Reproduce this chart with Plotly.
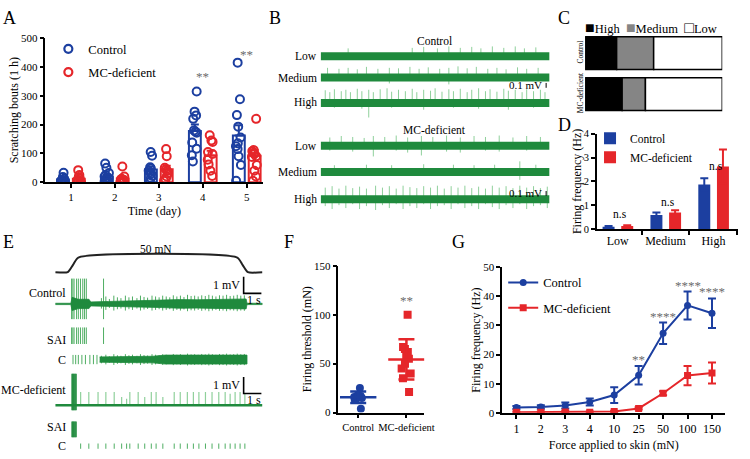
import plotly.graph_objects as go
import numpy as np

W, H = 750, 459
def fx(p): return p / W
def fy(p): return 1 - p / H

FONT = "Liberation Serif"
BLUE = "#1c3fa0"
RED = "#e5262a"
GREEN = "#1f8a3d"
GREEN_L = "#8fd09b"
GREEN_M = "#4fae63"
GREY = "#6b6b6b"

# ================= DATA =================
# A: scratching bouts
days = [1, 2, 3, 4, 5]
a_ctrl_mean = [10, 20, 44, 178, 162]
a_ctrl_sem = [4, 7, 11, 22, 36]
a_mc_mean = [12, 13, 45, 93, 92]
a_mc_sem = [5, 6, 12, 16, 20]
a_ctrl_pts = [
    [33, 18, 12, 8, 5, 3, 0, 0],
    [65, 50, 32, 25, 20, 15, 10, 5, 3, 0],
    [105, 92, 52, 48, 40, 35, 30, 22, 15, 0],
    [315, 245, 232, 220, 180, 175, 172, 138, 116, 94, 72],
    [415, 288, 233, 193, 155, 135, 125, 115, 90, 60, 5],
]
a_mc_pts = [
    [42, 25, 18, 12, 8, 5, 2, 0, 0],
    [55, 20, 12, 10, 8, 5, 3, 0],
    [115, 90, 50, 45, 40, 30, 20, 10, 5],
    [163, 145, 140, 105, 98, 78, 62, 40, 22],
    [220, 112, 108, 102, 98, 90, 88, 60, 40, 20, 5],
]
a_sig = ["", "", "", "**", "**"]

# B: spontaneous firing traces, spikes as (time fraction, up mV, down mV)
b_levels = ["Low", "Medium", "High"]
b_ctrl_low = [(0.12,.16,0),(0.40,.17,0),(0.45,.19,0),(0.51,.16,0),(0.56,.2,0),(0.61,.17,0),
              (0.66,.19,0),(0.70,.16,0),(0.75,.2,0),(0.80,.17,0),(0.85,.2,0),(0.89,.16,0),(0.94,.18,0)]
b_ctrl_med = [(0.03,.2,0),(0.08,.18,0),(0.12,.2,0),(0.16,.17,0),(0.2,.22,0),(0.25,.18,0),(0.3,.2,.12),
              (0.34,.19,0),(0.39,.22,0),(0.43,.18,0),(0.47,.21,0),(0.52,.18,0),(0.56,.2,.14),(0.6,.23,0),
              (0.64,.19,0),(0.68,.22,0),(0.73,.18,0),(0.77,.2,0),(0.81,.17,0),(0.86,.21,0),(0.9,.18,0),(0.95,.2,0)]
b_ctrl_high = [(0.02,.26,0),(0.04,.22,0),(0.06,.28,.1),(0.09,.24,0),(0.11,.27,0),(0.13,.22,0),(0.16,.29,0),
               (0.18,.24,.12),(0.21,.27,.3),(0.23,.22,0),(0.26,.28,0),(0.29,.3,0),(0.31,.23,.1),(0.34,.27,0),
               (0.37,.24,0),(0.40,.29,0),(0.42,.22,0),(0.45,.27,.14),(0.48,.25,0),(0.50,.3,0),(0.53,.23,0),
               (0.56,.28,0),(0.58,.24,.1),(0.61,.29,0),(0.64,.22,0),(0.66,.27,0),(0.69,.3,.12),(0.72,.24,0),
               (0.74,.28,0),(0.77,.23,0),(0.80,.29,0),(0.82,.25,.14),(0.85,.27,0),(0.88,.22,0),(0.90,.28,0),
               (0.93,.24,.1),(0.96,.27,0),(0.98,.22,0)]
b_mc_low = [(0.04,.17,.1),(0.09,.2,0),(0.14,.18,.12),(0.19,.16,0),(0.23,.2,.22),(0.28,.18,0),(0.33,.21,.1),
            (0.38,.17,.14),(0.44,.2,.2),(0.49,.18,0),(0.55,.21,.12),(0.61,.17,.14),(0.67,.2,0),(0.72,.18,.1),
            (0.78,.21,.12),(0.84,.17,0),(0.90,.2,.1),(0.96,.18,0)]
b_mc_med = [(0.06,.14,0),(0.2,.15,0),(0.31,.14,0),(0.45,.16,0),(0.58,.15,0),(0.67,.14,0),(0.76,.15,0),
            (0.87,.22,.16),(0.94,.15,0)]
b_mc_high = [(0.02,.24,.14),(0.05,.27,.2),(0.08,.22,.12),(0.11,.28,.18),(0.14,.23,.1),(0.17,.26,.2),(0.2,.22,.14),
             (0.24,.28,.22),(0.27,.24,.12),(0.3,.27,.18),(0.33,.22,.1),(0.36,.28,.2),(0.39,.25,.14),(0.42,.23,.18),
             (0.45,.27,.1),(0.48,.24,.2),(0.51,.28,.14),(0.54,.22,.12),(0.57,.27,.2),(0.6,.24,.1),(0.63,.28,.18),
             (0.66,.23,.14),(0.69,.26,.2),(0.72,.22,.1),(0.75,.28,.16),(0.78,.24,.2),(0.81,.27,.12),(0.84,.23,.18),
             (0.87,.28,.1),(0.9,.24,.2),(0.93,.27,.14),(0.96,.23,.12),(0.99,.26,.18)]

# C: proportion of units (%)
c_groups = ["Control", "MC-deficient"]
c_high = [23, 27]
c_medium = [27, 17]
c_low = [50, 56]

# D: firing frequency (Hz)
d_cats = ["Low", "Medium", "High"]
d_ctrl = [0.11, 0.60, 1.87]
d_ctrl_err = [0.03, 0.10, 0.26]
d_mc = [0.14, 0.70, 2.62]
d_mc_err = [0.03, 0.10, 0.72]
d_sig = ["n.s", "n.s", "n.s"]

# E: 50 mN stimulation traces (time s, force mN, amplitude mV)
e_stim_t = [0, 0.7, 1.0, 1.3, 10.25, 10.55, 10.85, 11.67]
e_stim_f = [0, 0, 25, 50, 50, 25, 0, 0]
e_ctrl_sai_t = [0.92, 0.99, 1.06, 1.2, 1.3, 1.42, 1.55, 1.65, 1.75, 2.72]
e_ctrl_env_t = [0, 0.88, 0.95, 1.3, 1.9, 2.0, 3.0, 4.0, 5.0, 6.0, 7.0, 8.0, 9.0, 10.0, 10.75, 10.8, 11.67]
e_ctrl_env = [0.04, 0.04, 0.4, 0.28, 0.28, 0.12, 0.15, 0.18, 0.2, 0.22, 0.26, 0.25, 0.27, 0.3, 0.3, 0.04, 0.04]
e_ctrl_c_t = [2.6, 2.85, 3.05, 3.3, 3.5, 3.7, 3.95, 4.15, 4.35, 4.6, 4.8, 5.0, 5.2, 5.45, 5.65, 5.85, 6.05,
              6.25, 6.45, 6.65, 6.85, 7.05, 7.25, 7.45, 7.65, 7.85, 8.05, 8.25, 8.45, 8.65, 8.85, 9.05,
              9.25, 9.45, 9.65, 9.85, 10.05, 10.25, 10.45, 10.65]
e_ctrl_c_amp = [0.35, 0.45, 0.3, 0.5, 0.4, 0.35, 0.5, 0.4, 0.45, 0.35, 0.5, 0.42, 0.38, 0.5, 0.45, 0.4, 0.5,
                0.45, 0.4, 0.52, 0.45, 0.5, 0.42, 0.55, 0.48, 0.5, 0.45, 0.52, 0.48, 0.55, 0.5, 0.45,
                0.52, 0.5, 0.55, 0.48, 0.5, 0.55, 0.5, 0.52]
e_ctrl_c_ticks = [1.0, 1.15, 1.3, 1.5, 1.7, 1.95, 2.15, 2.35]
e_ctrl_c_env_t = [2.5, 4.0, 5.5, 6.2, 8.0, 10.8]
e_ctrl_c_env = [0.16, 0.18, 0.2, 0.27, 0.27, 0.27]
e_mc_sai_t = [0.95, 1.0, 1.05, 1.11, 1.17]
e_mc_c_t = [1.43, 1.89, 2.41, 2.85, 3.32, 3.74, 4.02, 4.2, 4.67, 5.04, 5.41, 5.68, 6.06,
            6.7, 7.04, 7.44, 7.78, 8.09, 8.46, 8.83, 9.21, 9.57, 9.85, 10.13, 10.41, 10.68]
e_mc_c_amp = [0.8, 0.8, 0.8, 0.8, 0.8, 0.5, 0.4, 0.8, 0.8, 0.5, 0.8, 0.8, 0.5,
              0.8, 0.8, 0.8, 0.8, 0.8, 0.8, 0.8, 0.8, 0.8, 0.7, 0.8, 0.8, 0.7]

# F: firing threshold (mN)
f_groups = ["Control", "MC-deficient"]
f_ctrl = [25, 18, 17, 16, 17, 15, 13, 4]
f_mc = [100, 67, 62, 65, 57, 55, 50, 45, 40, 35, 21]
f_sig = ["", "**"]

# G: force-frequency
g_force = ["1", "2", "3", "4", "10", "25", "50", "100", "150"]
g_ctrl = [1.8, 2.0, 2.5, 3.7, 6.1, 12.9, 27.3, 36.9, 34.2]
g_ctrl_err = [0.5, 0.6, 1.0, 1.2, 2.7, 3.2, 3.7, 4.8, 5.1]
g_mc = [0.2, 0.2, 0.3, 0.2, 0.4, 1.5, 6.7, 12.8, 13.7]
g_mc_err = [0.2, 0.2, 0.3, 0.2, 0.3, 0.4, 0.7, 3.3, 3.6]
g_sig = ["", "", "", "", "", "**", "****", "****", "****"]

# ================= FIGURE =================
fig = go.Figure()
ann = []
shapes = []

def A(text, x, y, xref="paper", yref="paper", size=11, color="black", xanchor="center",
      yanchor="middle", angle=0):
    ann.append(dict(text=text, x=x, y=y, xref=xref, yref=yref, showarrow=False,
                    font=dict(family=FONT, size=size, color=color), xanchor=xanchor,
                    yanchor=yanchor, textangle=angle))

def spike_xy(spk, off):
    xs, ys = [], []
    for t, u, d in spk:
        xs += [t, t, None]
        ys += [off - d, off + u, None]
    return xs, ys

def add_lines(xs, ys, color, width, ax="5", **kw):
    fig.add_trace(go.Scatter(x=xs, y=ys, mode="lines", line=dict(color=color, width=width, **kw),
                             xaxis="x" + ax, yaxis="y" + ax, showlegend=False, hoverinfo="skip"))

# ---------- Panel A ----------
for mean, sem, col, off in [(a_ctrl_mean, a_ctrl_sem, BLUE, -0.315), (a_mc_mean, a_mc_sem, RED, 0.045)]:
    fig.add_trace(go.Bar(x=days, y=mean, width=0.27, offset=off, xaxis="x", yaxis="y",
                         marker=dict(color="rgba(255,255,255,0)", line=dict(color=col, width=2)),
                         error_y=dict(type="data", array=sem, arrayminus=[0] * len(sem), symmetric=False,
                                      color=col, thickness=2, width=4),
                         showlegend=False, hoverinfo="skip"))
for pts, col, grp in [(a_ctrl_pts, BLUE, "ctrl"), (a_mc_pts, RED, "mc")]:
    xs = [d for d, p in zip(days, pts) for _ in p]
    ys = [v for p in pts for v in p]
    fig.add_trace(go.Box(x=xs, y=ys, xaxis="x", yaxis="y", boxpoints="all", jitter=0.55, pointpos=0,
                         fillcolor="rgba(0,0,0,0)", line=dict(color="rgba(0,0,0,0)", width=0),
                         marker=dict(symbol="circle-open", size=8, color=col, line=dict(width=2, color=col)),
                         offsetgroup=grp, alignmentgroup="a", showlegend=False, hoverinfo="skip"))
for name, col in [("Control", BLUE), ("MC-deficient", RED)]:
    fig.add_trace(go.Scatter(x=[None], y=[None], mode="markers", name=name, xaxis="x", yaxis="y",
                             marker=dict(symbol="circle-open", size=8, color=col, line=dict(width=2.2, color=col)),
                             legend="legend", legendgroup=name))
for d, s, top in zip(days, a_sig, [0, 0, 0, 368, 442]):
    if s:
        A(s, d, top, xref="x", yref="y", size=13, color=GREY)

# ---------- Panel B ----------
b_off_ctrl = [-0.23, -0.67, -1.19]
b_off_mc = [-2.07, -2.61, -3.17]
for spk_list, offs in [([b_ctrl_low, b_ctrl_med, b_ctrl_high], b_off_ctrl),
                       ([b_mc_low, b_mc_med, b_mc_high], b_off_mc)]:
    for spk, off, lab in zip(spk_list, offs, b_levels):
        xs, ys = spike_xy(spk, off)
        add_lines(xs, ys, GREEN_L, 1, ax="2")
        add_lines([0, 1], [off, off], GREEN, 8, ax="2")
        A(lab, fx(323), off, yref="y2", xanchor="right", size=11.5)
A("Control", fx(440), fy(36), size=11.5)
A("MC-deficient", fx(440), fy(127), size=11.5)
for y0 in [b_off_ctrl[2] + 0.31, b_off_mc[2] + 0.07]:
    shapes.append(dict(type="line", xref="x2", yref="y2", x0=0.985, x1=0.985, y0=y0, y1=y0 + 0.1,
                       line=dict(color="black", width=1)))
    A("0.1 mV", 0.975, y0 + 0.05, xref="x2", yref="y2", xanchor="right", size=11)

# ---------- Panel C ----------
c_base_med = list(np.array(c_high))
c_base_low = list(np.array(c_high) + np.array(c_medium))
for vals, base, col in [(c_high, [0, 0], "black"), (c_medium, c_base_med, "#858585"), (c_low, c_base_low, "white")]:
    fig.add_trace(go.Bar(x=vals, y=c_groups, base=base, orientation="h", width=0.8, xaxis="x3", yaxis="y3",
                         marker=dict(color=col, line=dict(color="black", width=1.5)),
                         showlegend=False, hoverinfo="skip"))
A("<span style='font-size:16px;color:black'>■</span>High  <span style='font-size:16px;color:#858585'>■</span>Medium  "
  "<span style='font-size:16px'>□</span>Low",
  fx(591), fy(22), xanchor="left", size=12.5)

# ---------- Panel D ----------
for vals, err, col, off, name in [(d_ctrl, d_ctrl_err, BLUE, -0.315, "Control"), (d_mc, d_mc_err, RED, 0.075, "MC-deficient")]:
    fig.add_trace(go.Bar(x=d_cats, y=vals, width=0.25, offset=off, xaxis="x4", yaxis="y4", name=name,
                         marker=dict(color=col, line=dict(width=0)),
                         error_y=dict(type="data", array=err, color=col, thickness=2, width=4),
                         legend="legend2", hoverinfo="skip"))
for i, (s, top) in enumerate(zip(d_sig, [0.66, 1.15, 2.66])):
    A(s, i + 0.05, top, xref="x4", yref="y4", size=11.5)

# ---------- Panel E ----------
E_STIM = -1.37
E_CTRL, E_CTRL_SAI, E_CTRL_C = -3.29, -5.71, -6.65
E_MC, E_MC_SAI, E_MC_C = -9.41, -11.35, -11.88
k_force = 0.88 / 50
add_lines(e_stim_t, [E_STIM + f * k_force for f in e_stim_f], "#222", 2, shape="spline", smoothing=0.6)
A("50 mN", 5.7, 0.0, xref="x5", yref="y5", size=11.5)
# control raw: SAI + C spikes behind the noise band
xs, ys = spike_xy([(t, 1.53, 0.92) for t in e_ctrl_sai_t], E_CTRL)
add_lines(xs, ys, GREEN_M, 1)
xs, ys = spike_xy([(t, a, a * 0.8) for t, a in zip(e_ctrl_c_t, e_ctrl_c_amp)], E_CTRL)
add_lines(xs, ys, GREEN_M, 1)
fig.add_trace(go.Scatter(x=e_ctrl_env_t + e_ctrl_env_t[::-1],
                         y=[E_CTRL + e for e in e_ctrl_env] + [E_CTRL - e for e in e_ctrl_env[::-1]],
                         mode="lines", fill="toself", fillcolor=GREEN, line=dict(color=GREEN, width=0.8),
                         xaxis="x5", yaxis="y5", showlegend=False, hoverinfo="skip"))
# control SAI
xs, ys = spike_xy([(t, 1.0, 0) for t in e_ctrl_sai_t], E_CTRL_SAI)
add_lines(xs, ys, GREEN_M, 1)
# control C
xs, ys = spike_xy([(t, 0.28, 0.28) for t in e_ctrl_c_ticks], E_CTRL_C)
add_lines(xs, ys, GREEN_M, 1)
xs, ys = spike_xy([(t, a * 0.65, a * 0.65) for t, a in zip(e_ctrl_c_t, e_ctrl_c_amp)], E_CTRL_C)
add_lines(xs, ys, GREEN_M, 1)
fig.add_trace(go.Scatter(x=e_ctrl_c_env_t + e_ctrl_c_env_t[::-1],
                         y=[E_CTRL_C + e for e in e_ctrl_c_env] + [E_CTRL_C - e for e in e_ctrl_c_env[::-1]],
                         mode="lines", fill="toself", fillcolor=GREEN, line=dict(color=GREEN, width=0.8),
                         xaxis="x5", yaxis="y5", showlegend=False, hoverinfo="skip"))
# MC raw
xs, ys = spike_xy([(t, a, 0.05) for t, a in zip(e_mc_c_t, e_mc_c_amp)], E_MC)
add_lines(xs, ys, GREEN_L, 1.2)
add_lines([0, 11.67], [E_MC, E_MC], GREEN, 2.5)
xs, ys = spike_xy([(t, 1.9, 0.3) for t in e_mc_sai_t], E_MC)
add_lines(xs, ys, GREEN, 1.5)
# MC SAI
xs, ys = spike_xy([(t, 0.96, 0) for t in e_mc_sai_t], E_MC_SAI)
add_lines(xs, ys, GREEN, 1.5)
# MC C
xs, ys = spike_xy([(t, 0.16, 0.16) for t in e_mc_c_t], E_MC_C)
add_lines(xs, ys, GREEN_M, 1)
# labels
for txt, yv in [("Control", E_CTRL + 0.65), ("SAI", E_CTRL_SAI + 0.25), ("C", E_CTRL_C),
                ("MC-deficient", E_MC + 0.9), ("SAI", E_MC_SAI + 0.6), ("C", E_MC_C)]:
    A(txt, fx(69), yv, yref="y5", xanchor="right", size=12)
# scale bars (1 mV, 1 s)
for top in [-1.65, -7.7]:
    shapes.append(dict(type="path", xref="x5", yref="y5",
                       path=f"M 10.61 {top} L 10.61 {top-1} L 11.61 {top-1}",
                       line=dict(color="black", width=1.6)))
    A("1 mV", 10.5, top - 0.5, xref="x5", yref="y5", xanchor="right", size=12)
    A("1 s", 11.2, top - 1.42, xref="x5", yref="y5", size=12)

# ---------- Panel F ----------
for vals, grp, col, sym in [(f_ctrl, f_groups[0], BLUE, "circle"), (f_mc, f_groups[1], RED, "square")]:
    fig.add_trace(go.Box(x=[grp] * len(vals), y=vals, xaxis="x6", yaxis="y6", boxpoints="all",
                         jitter=0.45, pointpos=0, fillcolor="rgba(0,0,0,0)",
                         line=dict(color="rgba(0,0,0,0)", width=0),
                         marker=dict(symbol=sym, size=8, color=col), offsetgroup="f", alignmentgroup="f",
                         showlegend=False, hoverinfo="skip"))
    fig.add_trace(go.Scatter(x=[grp], y=[np.mean(vals)], mode="markers", xaxis="x6", yaxis="y6",
                             marker=dict(symbol="line-ew", size=26, line=dict(color=col, width=2.5)),
                             error_y=dict(type="data", array=[np.std(vals, ddof=1)], color=col,
                                          thickness=2.5, width=8),
                             showlegend=False, hoverinfo="skip"))
for i, s in enumerate(f_sig):
    if s:
        A(s, i, 114, xref="x6", yref="y6", size=13, color=GREY)

# ---------- Panel G ----------
for vals, err, col, sym, name in [(g_ctrl, g_ctrl_err, BLUE, "circle", "Control"),
                                  (g_mc, g_mc_err, RED, "square", "MC-deficient")]:
    fig.add_trace(go.Scatter(x=g_force, y=vals, mode="lines+markers", name=name, xaxis="x7", yaxis="y7",
                             line=dict(color=col, width=2), marker=dict(symbol=sym, size=7, color=col),
                             error_y=dict(type="data", array=err, color=col, thickness=2, width=4),
                             legend="legend3", legendgroup=name, hoverinfo="skip"))
for i, (s, top) in enumerate(zip(g_sig, [0, 0, 0, 0, 0, 18.3, 33.2, 43.8, 41.6])):
    if s:
        A(s, i, top, xref="x7", yref="y7", size=13, color=GREY)

# ---------- panel letters ----------
for L, x, y in [("A", 10, 12), ("B", 279, 12), ("C", 572, 12), ("D", 572, 122),
                ("E", 9, 242), ("F", 293, 242), ("G", 465, 242)]:
    A(L, fx(x), fy(y), size=18)

# ================= LAYOUT =================
def axis(**kw):
    base = dict(showgrid=False, zeroline=False, showline=True, linecolor="black", linewidth=1.5,
                ticks="outside", ticklen=4, tickwidth=1.5, tickcolor="black", tickangle=0,
                tickfont=dict(family=FONT, size=10.5, color="black"), fixedrange=True)
    base.update(kw)
    return base

def hidden(**kw):
    base = dict(visible=False, fixedrange=True)
    base.update(kw)
    return base

TF = dict(family=FONT, size=12, color="black")
fig.update_layout(
    width=W, height=H, margin=dict(l=0, r=0, t=0, b=0),
    paper_bgcolor="white", plot_bgcolor="white",
    font=dict(family=FONT, color="black"),
    barmode="overlay", boxmode="group", boxgap=0.28, boxgroupgap=0.25,
    showlegend=True,
    # A
    xaxis=axis(domain=[fx(46), fx(267)], range=[0.42, 5.38], anchor="y", tickvals=days,
               tickfont=dict(family=FONT, size=11, color="black"),
               title=dict(text="Time (day)", font=TF, standoff=4)),
    yaxis=axis(domain=[fy(181), fy(33)], range=[0, 500], anchor="x", tickvals=[0, 100, 200, 300, 400, 500],
               tickfont=dict(family=FONT, size=11, color="black"),
               title=dict(text="Scratching bouts (1 h)", font=TF, standoff=0)),
    # B
    xaxis2=hidden(domain=[fx(325), fx(557)], range=[0, 1], anchor="y2"),
    yaxis2=hidden(domain=[fy(210), fy(40)], range=[-3.4, 0], anchor="x2"),
    # C
    xaxis3=hidden(domain=[fx(593), fx(732)], range=[0, 100], anchor="y3"),
    yaxis3=dict(domain=[fy(111.5), fy(27.5)], range=[1.5, -0.5], anchor="x3", type="category",
                categoryarray=c_groups, showline=False, showgrid=False, zeroline=False, ticks="",
                tickangle=-90, tickfont=dict(family=FONT, size=7.5, color="black"), fixedrange=True),
    # D
    xaxis4=axis(domain=[fx(605), fx(748)], range=[-0.433, 2.515], anchor="y4", type="category",
                categoryarray=d_cats, tickson="boundaries", tickfont=dict(family=FONT, size=12, color="black")),
    yaxis4=axis(domain=[fy(229.3), fy(131)], range=[0, 4], anchor="x4", dtick=1,
                title=dict(text="Firing frequency (Hz)", font=TF, standoff=0)),
    # E
    xaxis5=hidden(domain=[fx(56), fx(266)], range=[0, 11.67], anchor="y5"),
    yaxis5=hidden(domain=[fy(458), fy(250)], range=[-12.235, 0], anchor="x5"),
    # F
    xaxis6=axis(domain=[fx(343), fx(430)], range=[-0.41, 1.37], anchor="y6", type="category",
                categoryarray=f_groups, tickfont=dict(family=FONT, size=10.5, color="black")),
    yaxis6=axis(domain=[fy(417.5), fy(266.7)], range=[0, 150], anchor="x6", tickvals=[0, 50, 100, 150],
                tickfont=dict(family=FONT, size=11, color="black"),
                title=dict(text="Firing threshold (mN)", font=TF, standoff=0)),
    # G
    xaxis7=axis(domain=[fx(509), fx(735)], range=[-0.58, 8.54], anchor="y7", type="category",
                categoryarray=g_force, tickfont=dict(family=FONT, size=12, color="black"),
                title=dict(text="Force applied to skin (mN)", font=TF, standoff=6)),
    yaxis7=axis(domain=[fy(417.7), fy(268.3)], range=[0, 50], anchor="x7", dtick=10,
                tickfont=dict(family=FONT, size=11, color="black"),
                title=dict(text="Firing frequency (Hz)", font=TF, standoff=0)),
    legend=dict(x=fx(49), y=fy(29), xanchor="left", yanchor="top", bgcolor="rgba(0,0,0,0)",
                font=dict(family=FONT, size=12.5), itemwidth=30, tracegroupgap=4),
    legend2=dict(x=fx(598), y=fy(121), xanchor="left", yanchor="top", bgcolor="rgba(0,0,0,0)",
                 font=dict(family=FONT, size=11.5), itemwidth=30, tracegroupgap=0),
    legend3=dict(x=fx(510), y=fy(269), xanchor="left", yanchor="top", bgcolor="rgba(0,0,0,0)",
                 font=dict(family=FONT, size=12.5), itemwidth=30, tracegroupgap=6),
    annotations=ann, shapes=shapes,
)

fig.write_html("out.html", config={"displayModeBar": False},
               post_script="document.body.style.margin='0px';")
